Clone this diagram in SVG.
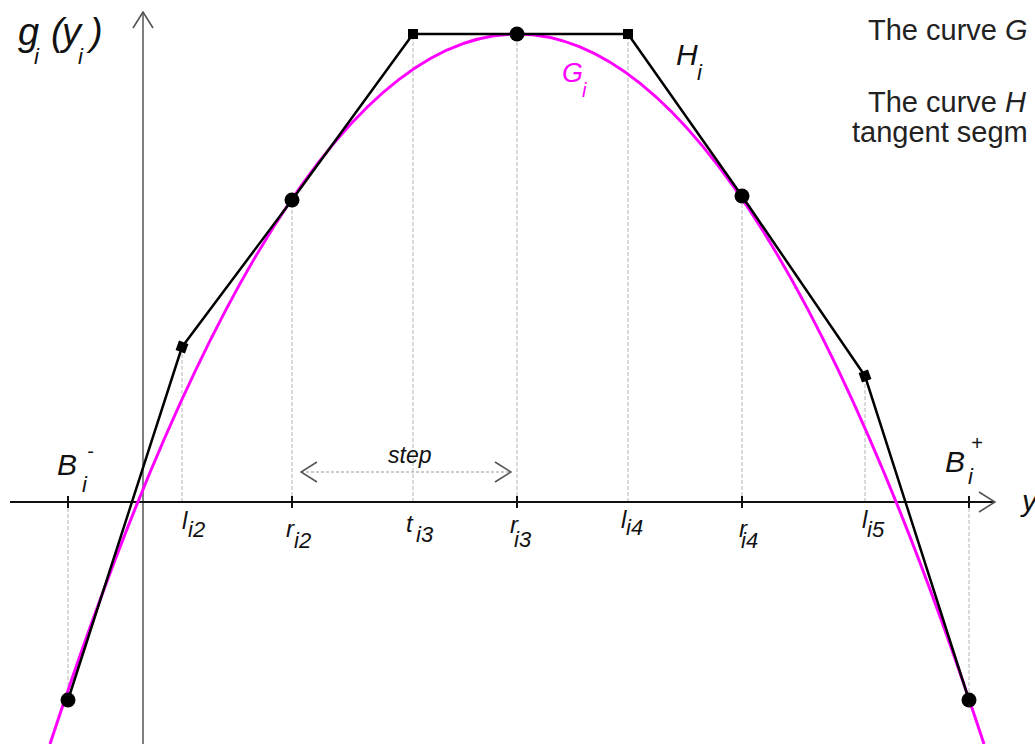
<svg xmlns="http://www.w3.org/2000/svg" width="1035" height="744" viewBox="0 0 1035 744">
<style>
text{font-family:"Liberation Sans",Arial,sans-serif;font-style:italic;fill:#111}
.note{font-style:normal;font-size:29px;fill:#222}
.note tspan.it{font-style:italic}
.lbl{font-size:24px}
.sub{font-size:22px}
.big{font-size:30px}
.guide{stroke:#b4b4b4;stroke-width:1;stroke-dasharray:4 2;fill:none}
.tick{stroke:#111;stroke-width:2}
.dot{fill:#000}
.sq{fill:#000}
</style>
<defs>
<marker id="chev" viewBox="0 0 18 22" refX="17" refY="11" markerWidth="18" markerHeight="22" markerUnits="userSpaceOnUse" orient="auto-start-reverse">
<path d="M1,1 L17,11 L1,21" fill="none" stroke="#555" stroke-width="1.6"/>
</marker>
</defs>
<rect width="1035" height="744" fill="#fff"/>
<g id="guides">
<line class="guide" x1="68" y1="502" x2="68" y2="700"/>
<line class="guide" x1="182" y1="502" x2="182" y2="347"/>
<line class="guide" x1="292" y1="502" x2="292" y2="200"/>
<line class="guide" x1="413" y1="502" x2="413" y2="34"/>
<line class="guide" x1="517" y1="502" x2="517" y2="34"/>
<line class="guide" x1="628" y1="502" x2="628" y2="34"/>
<line class="guide" x1="742" y1="502" x2="742" y2="196"/>
<line class="guide" x1="865" y1="502" x2="865" y2="376"/>
<line class="guide" x1="969" y1="502" x2="969" y2="700"/>
</g>
<g id="axes">
<line x1="143" y1="744" x2="143" y2="12" stroke="#555" stroke-width="1.5" marker-end="url(#chev)"/>
<line x1="10" y1="502" x2="995" y2="502" stroke="#111" stroke-width="2" marker-end="url(#chev)"/>
<line class="tick" x1="68" y1="496" x2="68" y2="508"/>
<line class="tick" x1="292" y1="496" x2="292" y2="508"/>
<line class="tick" x1="517" y1="496" x2="517" y2="508"/>
<line class="tick" x1="742" y1="496" x2="742" y2="508"/>
<line class="tick" x1="969" y1="496" x2="969" y2="508"/>
</g>
<g id="step">
<line x1="301" y1="472" x2="511" y2="472" stroke="#999" stroke-width="1.2" stroke-dasharray="3 2" marker-start="url(#chev)" marker-end="url(#chev)"/>
<text x="388" y="463" style="font-size:23px">step</text>
</g>
<g id="curve-G">
<path d="M50,744 Q517,-676 984,744" fill="none" stroke="#ff00ff" stroke-width="3"/>
</g>
<g id="curve-H">
<polyline points="68,700 182,347 292,200 413,34 517,34 628,34 742,196 865,376 969,700" fill="none" stroke="#000" stroke-width="2.5" stroke-linejoin="round"/>
</g>
<g id="points">
<circle class="dot" cx="68" cy="700" r="7.5"/>
<circle class="dot" cx="292" cy="200" r="7.5"/>
<circle class="dot" cx="517" cy="34" r="7.5"/>
<circle class="dot" cx="742" cy="196" r="7.5"/>
<circle class="dot" cx="969" cy="700" r="7.5"/>
<rect class="sq" x="177" y="342" width="10" height="10" transform="rotate(20 182 347)"/>
<rect class="sq" x="408" y="29" width="10" height="10"/>
<rect class="sq" x="623" y="29" width="10" height="10"/>
<rect class="sq" x="860" y="371" width="10" height="10" transform="rotate(-20 865 376)"/>
</g>
<g id="label-g">
<text x="18" y="45" style="font-size:38px">g</text>
<text x="34" y="64" class="sub">i</text>
<text x="51" y="45" style="font-size:38px">(</text>
<text x="62" y="45" style="font-size:38px">y</text>
<text x="78" y="64" class="sub">i</text>
<text x="90" y="45" style="font-size:38px">)</text>
</g>
<g id="label-H">
<text x="676" y="65" class="big">H</text>
<text x="697" y="80" class="sub">i</text>
</g>
<g id="label-G">
<text x="562" y="82" style="font-size:27px;fill:#ff00ff">G</text>
<text x="582" y="97" style="font-size:20px;fill:#ff00ff">i</text>
</g>
<g id="label-Bminus">
<text x="57" y="475" class="big">B</text>
<text x="87" y="458" style="font-size:20px">-</text>
<text x="82" y="492" class="sub">i</text>
</g>
<g id="label-Bplus">
<text x="945" y="472" class="big">B</text>
<text x="971" y="450" style="font-size:20px">+</text>
<text x="968" y="484" class="sub">i</text>
</g>
<g id="label-y">
<text x="1022" y="511" class="big">y</text>
</g>
<g id="axis-labels">
<text x="182" y="529" class="lbl">l</text><text x="188" y="537" class="sub">i2</text>
<text x="286" y="537" class="lbl">r</text><text x="294" y="548" class="sub">i2</text>
<text x="406" y="532" class="lbl">t</text><text x="416" y="542" class="sub">i3</text>
<text x="510" y="533" class="lbl">r</text><text x="514" y="547" class="sub">i3</text>
<text x="621" y="528" class="lbl">l</text><text x="626" y="535" class="sub">i4</text>
<text x="739" y="537" class="lbl">r</text><text x="741" y="548" class="sub">i4</text>
<text x="862" y="528" class="lbl">l</text><text x="867" y="537" class="sub">i5</text>
</g>
<g id="notes">
<text x="868" y="40" class="note">The curve <tspan class="it">G</tspan></text>
<text x="868" y="112" class="note">The curve <tspan class="it">H</tspan></text>
<text x="852" y="142" class="note">tangent segm</text>
</g>
</svg>
